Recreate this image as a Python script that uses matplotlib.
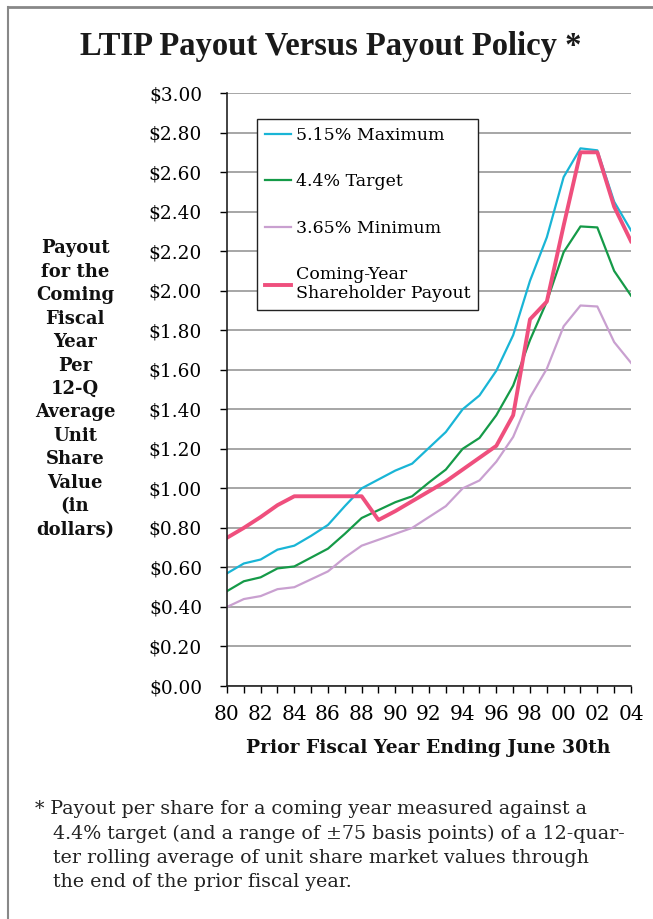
import matplotlib
matplotlib.use("Agg")
import matplotlib.pyplot as plt
from matplotlib.lines import Line2D

plt.rcParams['font.family'] = ['DejaVu Serif']

# ================== data ==================
years = list(range(1980, 2005))
tick_labels = ["80", "", "82", "", "84", "", "86", "", "88", "", "90", "", "92", "",
               "94", "", "96", "", "98", "", "00", "", "02", "", "04"]

maximum = [0.57, 0.62, 0.64, 0.69, 0.71, 0.76, 0.815, 0.91, 1.00, 1.045, 1.09, 1.125,
           1.205, 1.285, 1.40, 1.47, 1.595, 1.775, 2.05, 2.27, 2.575, 2.72, 2.71, 2.45, 2.305]
target = [0.48, 0.53, 0.55, 0.595, 0.605, 0.65, 0.695, 0.77, 0.85, 0.89, 0.93, 0.96,
          1.03, 1.095, 1.20, 1.255, 1.37, 1.52, 1.75, 1.945, 2.195, 2.325, 2.32, 2.10, 1.975]
minimum = [0.40, 0.44, 0.455, 0.49, 0.50, 0.54, 0.58, 0.65, 0.71, 0.74, 0.77, 0.80,
           0.855, 0.91, 1.00, 1.04, 1.135, 1.26, 1.46, 1.605, 1.82, 1.925, 1.92, 1.74, 1.635]
payout = [0.75, 0.80, 0.855, 0.915, 0.96, 0.96, 0.96, 0.96, 0.96, 0.84, 0.885, 0.935,
          0.985, 1.035, 1.095, 1.155, 1.215, 1.37, 1.855, 1.945, 2.33, 2.70, 2.70, 2.425, 2.25]

y_ticks = [i * 0.2 for i in range(16)]

fig = plt.figure(figsize=(6.53, 9.19), dpi=100)
ax = fig.add_axes([0.3476, 0.2535, 0.6187, 0.6453])

ax.plot(years, maximum, color="#19b5d6", lw=1.6, label="5.15% Maximum")
ax.plot(years, target, color="#159a48", lw=1.6, label="4.4% Target")
ax.plot(years, minimum, color="#c9a0d0", lw=1.6, label="3.65% Minimum")
ax.plot(years, payout, color="#ef4f7d", lw=2.8, label="Coming-Year\nShareholder Payout")

ax.set_xlim(1980, 2004)
ax.set_ylim(0, 3.0)
ax.set_xticks(years)
ax.set_xticklabels(tick_labels, fontsize=14.5)
ax.set_yticks(y_ticks)
ax.set_yticklabels(["$%.2f" % v for v in y_ticks], fontsize=13.3)
ax.tick_params(axis="y", direction="out", length=5, pad=13, width=1)
ax.tick_params(axis="x", direction="out", length=5, pad=9, width=1)
ax.yaxis.grid(True, color="#a6a6a6", lw=1.4)
ax.set_axisbelow(True)
for s in ["top", "right"]:
    ax.spines[s].set_visible(False)
for s in ["left", "bottom"]:
    ax.spines[s].set_color("#222222")
    ax.spines[s].set_linewidth(1.2)

leg = ax.legend(loc="upper left", bbox_to_anchor=(0.074, 0.956), borderaxespad=0,
                fontsize=12.5, handlelength=1.5, handletextpad=0.3, labelspacing=1.7,
                fancybox=False, framealpha=1, edgecolor="#222222",
                borderpad=0.45)
leg.get_frame().set_linewidth(1.0)
for t in leg.get_texts():
    t.set_linespacing(1.15)

fig.text(0.507, 1 - 46 / 919, "LTIP Payout Versus Payout Policy *", ha="center", va="center",
         fontsize=23.5, fontweight="bold", color="#1a1a1a", family="Liberation Serif")

ylab = "Payout\nfor the\nComing\nFiscal\nYear\nPer\n12-Q\nAverage\nUnit\nShare\nValue\n(in\ndollars)"
fig.text(75 / 653, 1 - 389 / 919, ylab, ha="center", va="center", fontsize=13,
         fontweight="bold", linespacing=1.39, color="#111111")

fig.text(428 / 653, 1 - 748 / 919, "Prior Fiscal Year Ending June 30th", ha="center",
         va="center", fontsize=13.5, fontweight="bold", color="#111111")

note = ("* Payout per share for a coming year measured against a\n"
        "   4.4% target (and a range of \u00b175 basis points) of a 12-quar-\n"
        "   ter rolling average of unit share market values through\n"
        "   the end of the prior fiscal year.")
fig.text(35 / 653, 1 - 800 / 919, note, ha="left", va="top", fontsize=13.7,
         linespacing=1.44, color="#222222")

# page frame
fig.add_artist(Line2D([8 / 653, 8 / 653], [0, 1 - 7 / 919], transform=fig.transFigure,
                      color="#888888", lw=1.5))
fig.add_artist(Line2D([8 / 653, 1], [1 - 7 / 919, 1 - 7 / 919], transform=fig.transFigure,
                      color="#888888", lw=2))

fig.savefig("out.png", dpi=100)
